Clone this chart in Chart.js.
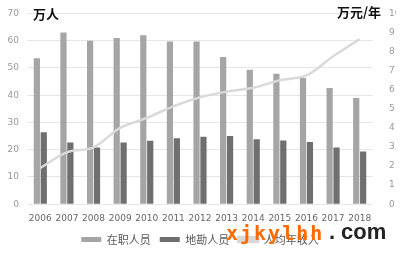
<!DOCTYPE html>
<html>
<head>
<meta charset="utf-8">
<script src="https://cdn.jsdelivr.net/npm/chart.js@4.4.0/dist/chart.umd.min.js"></script>
<style>
  html, body { margin: 0; padding: 0; background: #fff; }
  #wrap { position: relative; width: 400px; height: 255px; }
  .unit { position: absolute; font-family: "Noto Sans CJK SC", sans-serif; font-weight: bold; font-size: 13px; color: #111; }
  .wm { position: absolute; font-weight: bold; white-space: nowrap; }
  .wm-a { left: 226px; top: 223px; font-family: "DejaVu Sans Mono", monospace; font-size: 20px; line-height: 20px; letter-spacing: 2px; color: #ff6a00; }
  .wm-b { top: 221px; font-family: "Liberation Sans", sans-serif; font-size: 22px; line-height: 22px; color: #222; }
</style>
</head>
<body>
<div id="wrap">
  <canvas id="chart" width="400" height="255"></canvas>
  <div class="unit" style="left:33px; top:4px;">万人</div>
  <div class="unit" style="left:337px; top:2px;">万元/年</div>
  <div class="wm wm-a">xjkylhh</div>
  <div class="wm wm-b" style="left:329px;">.</div>
  <div class="wm wm-b" style="left:341px;">com</div>
</div>
<script>
document.addEventListener('DOMContentLoaded', function() {
    // --- Data ---
    const years = ['2006', '2007', '2008', '2009', '2010', '2011', '2012', '2013', '2014', '2015', '2016', '2017', '2018'];
    const staff = [53.5, 63, 60, 61, 62, 59.7, 59.7, 54, 49.3, 47.9, 46.3, 42.6, 39];
    const geoStaff = [26.4, 22.6, 20.8, 22.6, 23.3, 24.2, 24.7, 25, 23.8, 23.4, 22.8, 20.8, 19.3];
    const income = [1.9, 2.72, 2.98, 4.0, 4.52, 5.13, 5.6, 5.9, 6.1, 6.5, 6.75, 7.75, 8.65];

    const tickFont = { family: 'DejaVu Sans', size: 9 };

    new Chart(document.getElementById('chart').getContext('2d'), {
        type: 'bar',
        data: {
            labels: years,
            datasets: [
                {
                    type: 'line',
                    label: '人均年收入',
                    data: income,
                    yAxisID: 'y2',
                    borderColor: '#d9d9d9',
                    backgroundColor: '#d9d9d9',
                    borderWidth: 2.5,
                    pointRadius: 0,
                    tension: 0.35,
                    order: 0
                },
                {
                    label: '在职人员',
                    data: staff,
                    yAxisID: 'y',
                    backgroundColor: '#a5a5a5',
                    categoryPercentage: 0.52,
                    barPercentage: 0.9,
                    order: 1
                },
                {
                    label: '地勘人员',
                    data: geoStaff,
                    yAxisID: 'y',
                    backgroundColor: '#6f6f6f',
                    categoryPercentage: 0.52,
                    barPercentage: 0.9,
                    order: 1
                }
            ]
        },
        options: {
            responsive: false,
            animation: false,
            layout: { padding: { top: 8, left: 4, right: 4, bottom: 0 } },
            scales: {
                x: {
                    grid: { display: false },
                    border: { display: false },
                    ticks: { color: '#666', font: tickFont, maxRotation: 0, padding: 1 }
                },
                y: {
                    position: 'left',
                    min: 0, max: 70,
                    ticks: { stepSize: 10, color: '#999', font: tickFont, padding: 8 },
                    grid: { color: '#e6e6e6', drawTicks: false },
                    border: { display: false },
                    afterFit: function(s) { s.width = 23; }
                },
                y2: {
                    position: 'right',
                    min: 0, max: 10,
                    ticks: { stepSize: 1, color: '#999', font: tickFont, padding: 8 },
                    grid: { display: false },
                    border: { display: false },
                    afterFit: function(s) { s.width = 23; }
                }
            },
            plugins: {
                legend: {
                    position: 'bottom',
                    labels: {
                        boxWidth: 20,
                        boxHeight: 5,
                        color: '#595959',
                        font: { family: 'Noto Sans CJK SC', size: 11 },
                        padding: 9,
                        sort: function(a, b) { return b.datasetIndex === 0 ? -1 : (a.datasetIndex === 0 ? 1 : a.datasetIndex - b.datasetIndex); }
                    }
                },
                tooltip: { enabled: false }
            }
        }
    });
});
</script>
</body>
</html>
